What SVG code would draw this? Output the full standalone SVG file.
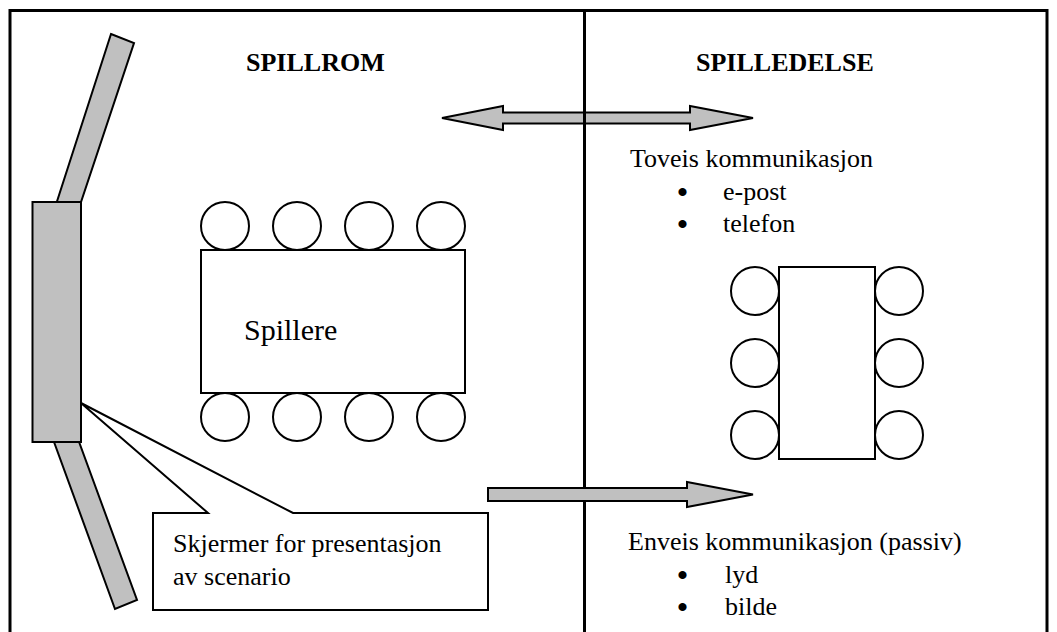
<svg xmlns="http://www.w3.org/2000/svg" width="1057" height="632" viewBox="0 0 1057 632">
  <style>
    .frame { fill: none; stroke: #000; stroke-width: 3; }
    .screen { fill: #c0c0c0; stroke: #000; stroke-width: 2; stroke-linejoin: miter; }
    .arrow { fill: #c0c0c0; stroke: #000; stroke-width: 2; stroke-linejoin: miter; }
    .table { fill: #fff; stroke: #000; stroke-width: 2; }
    .seat { fill: #fff; stroke: #000; stroke-width: 2; }
    .callout { fill: #fff; stroke: #000; stroke-width: 2; stroke-linejoin: miter; }
    .title { font-family: "Liberation Serif", "Times New Roman", serif; font-weight: bold; font-size: 26px; fill: #000; }
    .body { font-family: "Liberation Serif", "Times New Roman", serif; font-size: 26px; fill: #000; }
    .bullet { font-family: "Liberation Serif", "Times New Roman", serif; font-size: 30px; font-weight: bold; fill: #000; text-anchor: middle; }
    .big { font-family: "Liberation Serif", "Times New Roman", serif; font-size: 30px; fill: #000; }
  </style>

  <rect width="1057" height="632" fill="#fff"/>

  <!-- presentation screens (left wall) -->
  <g id="screens">
    <polygon class="screen" points="111,34 134,43 75,220 51,220"/>
    <polygon class="screen" points="46,420 71,420 137,600 115,609"/>
    <rect class="screen" x="32.5" y="202" width="48.5" height="240"/>
  </g>

  <!-- two-way communication arrow (under the divider) -->
  <g id="connectors">
    <polygon class="arrow" points="442,118 503,106 503,112.5 690,112.5 690,106 753,118 690,130 690,123.5 503,123.5 503,130"/>
  </g>

  <!-- outer frame and room divider -->
  <g id="frame">
    <rect class="frame" x="10" y="10.5" width="1037" height="640"/>
    <line class="frame" x1="584.5" y1="10" x2="584.5" y2="640"/>
  </g>

  <!-- one-way communication arrow (over the divider) -->
  <g id="connector-oneway">
    <polygon class="arrow" points="488,488 687,488 687,482 753,494.5 687,507 687,501 488,501"/>
  </g>

  <!-- section titles -->
  <g id="title-spillrom">
    <text class="title" x="246" y="71">SPILLROM</text>
  </g>
  <g id="title-spilledelse">
    <text class="title" x="696" y="71">SPILLEDELSE</text>
  </g>

  <!-- players' table -->
  <g id="players">
    <rect class="table" x="201" y="250" width="264" height="143"/>
    <circle class="seat" cx="225" cy="226" r="24"/>
    <circle class="seat" cx="297" cy="226" r="24"/>
    <circle class="seat" cx="369" cy="226" r="24"/>
    <circle class="seat" cx="441" cy="226" r="24"/>
    <circle class="seat" cx="225" cy="417" r="24"/>
    <circle class="seat" cx="297" cy="417" r="24"/>
    <circle class="seat" cx="369" cy="417" r="24"/>
    <circle class="seat" cx="441" cy="417" r="24"/>
    <text class="big" x="244" y="340">Spillere</text>
  </g>

  <!-- game control table -->
  <g id="control">
    <rect class="table" x="779" y="267" width="96" height="192"/>
    <circle class="seat" cx="755" cy="291" r="24"/>
    <circle class="seat" cx="755" cy="363" r="24"/>
    <circle class="seat" cx="755" cy="435" r="24"/>
    <circle class="seat" cx="899" cy="291" r="24"/>
    <circle class="seat" cx="899" cy="363" r="24"/>
    <circle class="seat" cx="899" cy="435" r="24"/>
  </g>

  <!-- two-way communication label -->
  <g id="label-twoway">
    <text class="body" x="630" y="167">Toveis kommunikasjon</text>
    <text class="bullet" x="682.5" y="202">•</text>
    <text class="body" x="723" y="200">e-post</text>
    <text class="bullet" x="682.5" y="234">•</text>
    <text class="body" x="723" y="232">telefon</text>
  </g>

  <!-- one-way communication label -->
  <g id="label-oneway">
    <text class="body" x="628" y="550">Enveis kommunikasjon (passiv)</text>
    <text class="bullet" x="682.5" y="585">•</text>
    <text class="body" x="725" y="583">lyd</text>
    <text class="bullet" x="682.5" y="617">•</text>
    <text class="body" x="725" y="615">bilde</text>
  </g>

  <!-- callout describing the screens -->
  <g id="callout">
    <path class="callout" d="M153,513 L208,513 L81,403 L293,513 L488,513 L488,610 L153,610 Z"/>
    <text class="body" x="173" y="552">Skjermer for presentasjon</text>
    <text class="body" x="173" y="585">av scenario</text>
  </g>
</svg>
